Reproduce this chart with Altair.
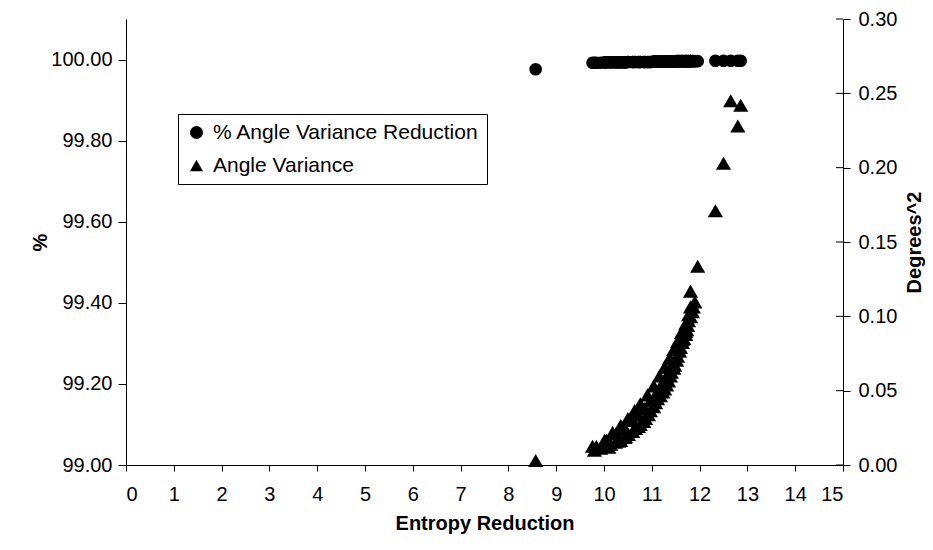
import altair as alt
import pandas as pd

# Entropy reduction (x), % angle variance reduction (left axis), angle variance (right axis)
entropy = [
    8.57,
    9.76, 9.80, 9.84, 9.93, 10.01, 10.03, 10.05, 10.10, 10.14, 10.18, 10.24, 10.26, 10.30,
    10.35, 10.35, 10.43, 10.43, 10.45, 10.50, 10.51, 10.60, 10.60, 10.64, 10.66,
    10.72, 10.72, 10.76, 10.76, 10.83, 10.85, 10.87, 10.91, 10.93, 10.97, 10.97,
    11.04, 11.04, 11.08, 11.10, 11.12, 11.16, 11.18, 11.20, 11.23, 11.27, 11.27,
    11.31, 11.31, 11.35, 11.37, 11.39, 11.39, 11.41, 11.46, 11.46, 11.48, 11.48,
    11.52, 11.54, 11.54, 11.56, 11.58, 11.60, 11.62, 11.64, 11.64, 11.67, 11.71,
    11.71, 11.71, 11.73, 11.75, 11.77, 11.77, 11.81, 11.81, 11.81, 11.85, 11.87,
    11.90, 11.96,
    12.33, 12.50, 12.65, 12.80, 12.86,
]
pct_reduction = [
    99.976,
    99.992, 99.992, 99.992, 99.992, 99.993, 99.993, 99.993, 99.993, 99.993, 99.993, 99.993, 99.993, 99.993,
    99.993, 99.993, 99.993, 99.993, 99.993, 99.994, 99.994, 99.994, 99.994, 99.994, 99.994,
    99.994, 99.994, 99.994, 99.994, 99.994, 99.994, 99.994, 99.994, 99.994, 99.994, 99.994,
    99.995, 99.995, 99.995, 99.995, 99.995, 99.995, 99.995, 99.995, 99.995, 99.995, 99.995,
    99.995, 99.995, 99.995, 99.995, 99.995, 99.995, 99.995, 99.995, 99.995, 99.995, 99.995,
    99.996, 99.996, 99.996, 99.996, 99.996, 99.996, 99.996, 99.996, 99.996, 99.996, 99.996,
    99.996, 99.996, 99.996, 99.996, 99.996, 99.996, 99.996, 99.996, 99.996, 99.996, 99.996,
    99.996, 99.996,
    99.997, 99.997, 99.997, 99.997, 99.997,
]
variance = [
    0.003,
    0.0126, 0.0100, 0.0126, 0.0113, 0.0166, 0.0126, 0.0166, 0.0120, 0.0140, 0.0219, 0.0153, 0.0213, 0.0160,
    0.0266, 0.0166, 0.0246, 0.0186, 0.0190, 0.0313, 0.0206, 0.0299, 0.0226, 0.0366, 0.0246,
    0.0339, 0.0259, 0.0412, 0.0273, 0.0293, 0.0379, 0.0313, 0.0472, 0.0339, 0.0366, 0.0432,
    0.0532, 0.0392, 0.0419, 0.0485, 0.0446, 0.0599, 0.0466, 0.0539, 0.0492, 0.0658, 0.0512,
    0.0599, 0.0539, 0.0565, 0.0718, 0.0658, 0.0599, 0.0625, 0.0778, 0.0652, 0.0672, 0.0711,
    0.0705, 0.0831, 0.0732, 0.0778, 0.0765, 0.0791, 0.0891, 0.0845, 0.0825, 0.0851, 0.0951,
    0.0898, 0.0878, 0.0911, 0.0938, 0.1011, 0.0971, 0.1064, 0.1170, 0.0998, 0.1031, 0.1064,
    0.1097, 0.1337,
    0.171, 0.203, 0.245, 0.228, 0.242,
]

series_names = ["\u00a0% Angle Variance Reduction", "Angle Variance"]
series_shapes = ["circle", "triangle-up"]

x_ticks = list(range(0, 16))
left_ticks = [99.0, 99.2, 99.4, 99.6, 99.8, 100.0]
right_ticks = [0.0, 0.05, 0.10, 0.15, 0.20, 0.25, 0.30]

df = pd.DataFrame({"entropy": entropy, "pct": pct_reduction, "variance": variance})
ticks_df = pd.DataFrame({"variance": right_ticks})

FONT = "Liberation Sans"
FS = 20
W, H = 717, 446

x_enc = alt.X(
    "entropy:Q",
    scale=alt.Scale(domain=[0, 15], nice=False, zero=False),
    axis=alt.Axis(
        values=x_ticks, format="d", title="Entropy Reduction",
        tickSize=6, labelPadding=13, titlePadding=9,
    ),
)

shape_enc = alt.Shape(
    "series:N",
    scale=alt.Scale(domain=series_names, range=series_shapes),
    legend=alt.Legend(
        orient="none", legendX=52, legendY=95, title=None,
        strokeColor="black", fillColor="white", padding=8,
        labelFont=FONT, labelFontSize=21, labelColor="black", labelLimit=500,
        symbolSize=170, symbolFillColor="black", symbolStrokeColor="black",
        symbolStrokeWidth=0, rowPadding=11, labelOffset=6, cornerRadius=0,
        offset=0,
    ),
)

circles = (
    alt.Chart(df)
    .transform_calculate(series="'" + series_names[0] + "'")
    .mark_point(filled=True, color="black", opacity=1, size=160)
    .encode(
        x=x_enc,
        y=alt.Y(
            "pct:Q",
            scale=alt.Scale(domain=[99.0, 100.1], nice=False, zero=False),
            axis=alt.Axis(
                orient="left", values=left_ticks, format=".2f", title="%",
                tickSize=8, labelPadding=6, titlePadding=0,
            ),
        ),
        shape=shape_enc,
    )
)

right_scale = alt.Scale(domain=[0, 0.3], nice=False, zero=True)
right_axis = alt.Axis(
    orient="right", values=right_ticks, format=".2f", title="Degrees^2",
    tickSize=7, labelPadding=8, titlePadding=28, titleAngle=-90,
)

triangles = (
    alt.Chart(df)
    .transform_calculate(series="'" + series_names[1] + "'")
    .mark_point(filled=True, color="black", opacity=1, size=230)
    .encode(
        x=x_enc,
        y=alt.Y("variance:Q", scale=right_scale, axis=right_axis, title="Degrees^2"),
        shape=shape_enc,
    )
)

# inner half of the right axis' crossing tick marks
inner_ticks = (
    alt.Chart(ticks_df)
    .mark_rule(color="black", strokeWidth=1)
    .encode(
        y=alt.Y("variance:Q", scale=right_scale, axis=right_axis, title="Degrees^2"),
        x=alt.value(W - 7),
        x2=alt.value(W),
    )
)

right_layer = alt.layer(triangles, inner_ticks)

chart = (
    alt.layer(circles, right_layer)
    .resolve_scale(y="independent")
    .properties(
        width=W, height=H, autosize="none",
        padding={"left": 118, "top": 11, "right": 82, "bottom": 77},
    )
    .configure_view(stroke=None)
    .configure_axis(
        grid=False, domainColor="black", tickColor="black", labelColor="black",
        titleColor="black", labelFont=FONT, titleFont=FONT, labelFontSize=FS,
        titleFontSize=FS, titleFontWeight="bold", domainWidth=1, tickWidth=1,
        labelFontWeight="normal",
    )
)

chart.save("out.html", embed_options={"renderer": "svg", "actions": False})
